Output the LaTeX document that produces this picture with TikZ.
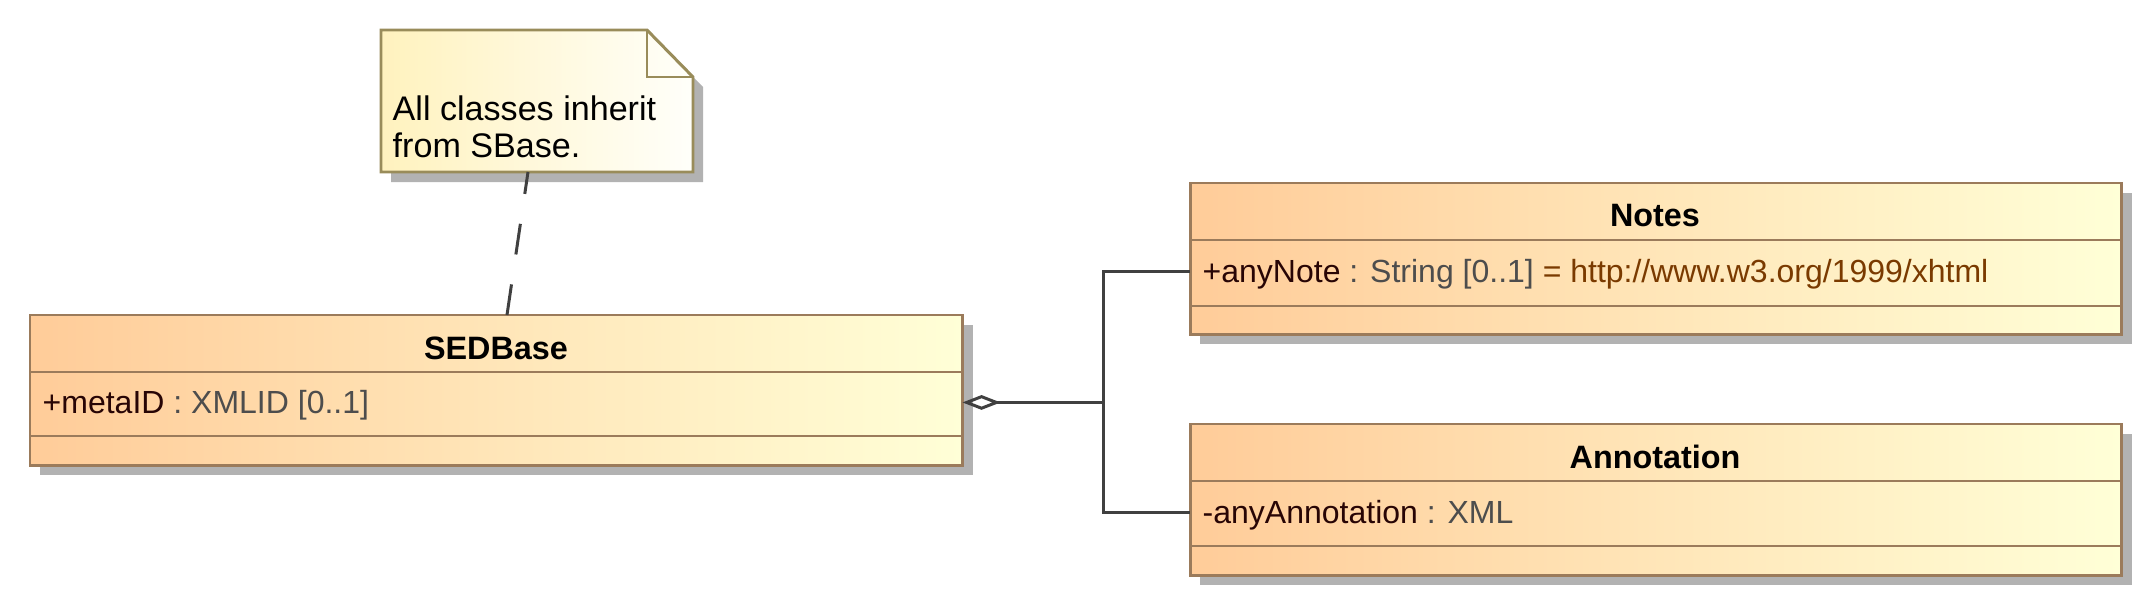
\documentclass[tikz,border=0pt]{standalone}
\usepackage{fontspec}
\setmainfont{Liberation Sans}
\usetikzlibrary{arrows.meta,shadows}
\definecolor{classborder}{RGB}{155,123,91}
\definecolor{classleft}{RGB}{255,204,153}
\definecolor{classright}{RGB}{255,255,215}
\definecolor{noteleft}{RGB}{255,242,190}
\definecolor{noteright}{RGB}{255,255,250}
\definecolor{noteborder}{RGB}{153,140,90}
\definecolor{shadowgray}{RGB}{178,178,178}
\definecolor{linegray}{RGB}{64,64,64}
\definecolor{namecol}{RGB}{40,5,5}
\definecolor{typecol}{RGB}{77,77,77}
\definecolor{valcol}{RGB}{122,58,0}
\begin{document}
\begin{tikzpicture}[x=0.01cm,y=-0.01cm,line join=miter]
  \tikzstyle{umlclass}=[draw=classborder,line width=0.85pt,left color=classleft,right color=classright,
    anchor=north west,inner sep=0pt,outer sep=0pt,
    drop shadow={shadow xshift=0.1cm,shadow yshift=-0.1cm,fill=shadowgray,opacity=1}]
  \tikzstyle{compartment}=[draw=classborder,line width=0.85pt]
  \tikzstyle{title}=[font=\fontsize{9.2}{11}\selectfont\bfseries]
  \tikzstyle{attr}=[anchor=base west,inner sep=0pt,text height=0.8em,text depth=0.2em,
    font=\fontsize{9.1}{11}\selectfont]
  \tikzstyle{link}=[draw=linegray,line width=0.85pt]
  \useasboundingbox (0,0) rectangle (2153,606);

  % note
  \draw[draw=noteborder,line width=0.85pt,left color=noteleft,right color=noteright,
    drop shadow={shadow xshift=0.1cm,shadow yshift=-0.1cm,fill=shadowgray,opacity=1}]
    (381,30) -- (647,30) -- (693,77) -- (693,172) -- (381,172) -- cycle;
  \draw[noteborder,line width=0.85pt] (647,30) -- (647,77) -- (693,77);
  \node[anchor=north west,inner sep=0pt,align=left,font=\fontsize{9.7}{10.5}\selectfont]
    (note) at (392,95) {All classes inherit\\from SBase.};
  \coordinate (notefoot) at (528,172);

  % classes
  \node[umlclass,minimum width=9.32cm,minimum height=1.5cm] (sedbase) at (30,315) {};
  \node[umlclass,minimum width=9.31cm,minimum height=1.51cm] (notes) at (1190,183) {};
  \node[umlclass,minimum width=9.31cm,minimum height=1.51cm] (annotation) at (1190,424) {};
  \foreach \y in {372,436}
    \draw[compartment] (30,\y) -- (962,\y);
  \foreach \y in {240,306,481,546}
    \draw[compartment] (1190,\y) -- (2121,\y);

  \node[title] (sedtitle) at (496,348) {SEDBase};
  \node[title] (notestitle) at (1655,216) {Notes};
  \node[title] (annotitle) at (1655,457) {Annotation};

  \node[attr] (sedattr) at (42,413)
    {\textcolor{namecol}{+metaID}~\textcolor{typecol}{: XMLID [0..1]}};
  \node[attr] (notesattr) at (1202,282)
    {\textcolor{namecol}{+anyNote}~\textcolor{typecol}{: String [0..1]}~\textcolor{valcol}{= http://www.w3.org/1999/xhtml}};
  \node[attr] (annoattr) at (1202,523)
    {\textcolor{namecol}{-anyAnnotation}~\textcolor{typecol}{: XML}};

  % connectors
  \coordinate (branch) at (1103,403);
  \draw[link,{Diamond[open,length=10.8pt,width=4.2pt]}-] (sedattr -| sedbase.east) -- (branch |- sedattr);
  \draw[link] (notesattr -| notes.west) -| (branch) |- (annoattr -| annotation.west);
  \draw[link,dash pattern=on 8.8pt off 8.6pt] (sedbase.north -| 507,0) -- (notefoot);
\end{tikzpicture}
\end{document}
